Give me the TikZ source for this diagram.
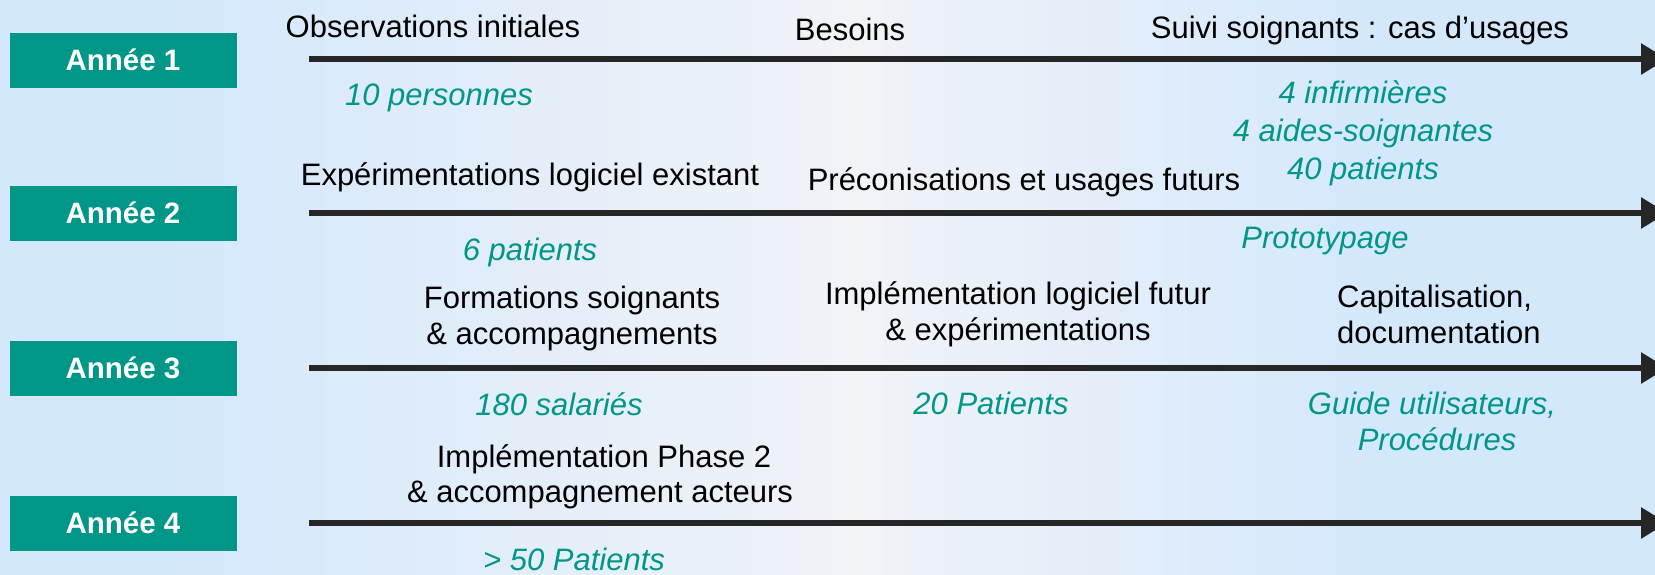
\documentclass[tikz,border=0pt]{standalone}
\usepackage{fontspec}
\setmainfont{Liberation Sans}
\usetikzlibrary{arrows.meta}
\definecolor{teal1}{RGB}{0,150,136}
\definecolor{bgblue}{RGB}{212,232,252}
\definecolor{bgmid}{RGB}{241,243,247}
\definecolor{linec}{RGB}{38,38,38}
\pgfdeclarehorizontalshading{bgshade}{100bp}{color(0bp)=(bgblue); color(25bp)=(bgblue); color(30bp)=(bgblue); color(51bp)=(bgmid); color(66.5bp)=(bgblue); color(100bp)=(bgblue)}
\begin{document}
\begin{tikzpicture}[x=1pt,y=-1pt,
  txt/.style={font=\fontsize{31}{38}\selectfont, inner sep=0pt, anchor=base, text=black},
  num/.style={font=\fontsize{31}{38}\selectfont\itshape, inner sep=0pt, anchor=base, text=teal1},
  yearbox/.style={fill=teal1, text=white, font=\fontsize{29.5}{34}\selectfont\bfseries, minimum width=227pt, minimum height=55pt, inner sep=0pt},
  timeline/.style={line width=6pt, draw=linec, -{Triangle[length=26pt,width=30pt]}}]
\useasboundingbox (0,0) rectangle (1655,574);
\shade[shading=bgshade] (0,0) rectangle (1655,574);

% year boxes
\node[yearbox] (y1) at (123,60) {Année 1};
\node[yearbox] (y2) at (123,213) {Année 2};
\node[yearbox] (y3) at (123,368) {Année 3};
\node[yearbox] (y4) at (123,523) {Année 4};

% timelines
\coordinate (s1) at (309,59);  \coordinate (e1) at (1667,59);
\coordinate (s2) at (309,213); \coordinate (e2) at (1667,213);
\coordinate (s3) at (309,368); \coordinate (e3) at (1667,368);
\coordinate (s4) at (309,523); \coordinate (e4) at (1667,523);
\draw[timeline] (s1) -- (e1);
\draw[timeline] (s2) -- (e2);
\draw[timeline] (s3) -- (e3);
\draw[timeline] (s4) -- (e4);

% year 1
\node[txt] (obs) at (433,37) {Observations initiales};
\node[txt] (bes) at (850,40) {Besoins};
\node[txt] (suivi) at (1360,38) {Suivi soignants : cas d’usages};
\node[num] (pers) at (439,105) {10 personnes};
\node[num] (inf) at (1363,103) {4 infirmières};
\node[num] (aides) at (1363,141) {4 aides-soignantes};
\node[num] (pat40) at (1363,179) {40 patients};

% year 2
\node[txt] (exp) at (530,185) {Expérimentations logiciel existant};
\node[txt] (prec) at (1024,190) {Préconisations et usages futurs};
\node[num] (pat6) at (530,260) {6 patients};
\node[num] (proto) at (1325,248) {Prototypage};

% year 3
\node[txt] (form1) at (572,308) {Formations soignants};
\node[txt] (form2) at (572,344) {\& accompagnements};
\node[txt] (impl1) at (1018,304) {Implémentation logiciel futur};
\node[txt] (impl2) at (1018,340) {\& expérimentations};
\node[txt, anchor=base west] (cap1) at (1337,307) {Capitalisation,};
\node[txt, anchor=base west] (cap2) at (1337,343) {documentation};
\node[num] (sal) at (559,415) {180 salariés};
\node[num] (pat20) at (991,414) {20 Patients};
\node[num] (guide1) at (1432,414) {Guide utilisateurs,};
\node[num] (guide2) at (1437,450) {Procédures};

% year 4
\node[txt] (ph1) at (604,467) {Implémentation Phase 2};
\node[txt] (ph2) at (600,502) {\& accompagnement acteurs};
\node[num] (pat50) at (574,570) {> 50 Patients};
\end{tikzpicture}
\end{document}
